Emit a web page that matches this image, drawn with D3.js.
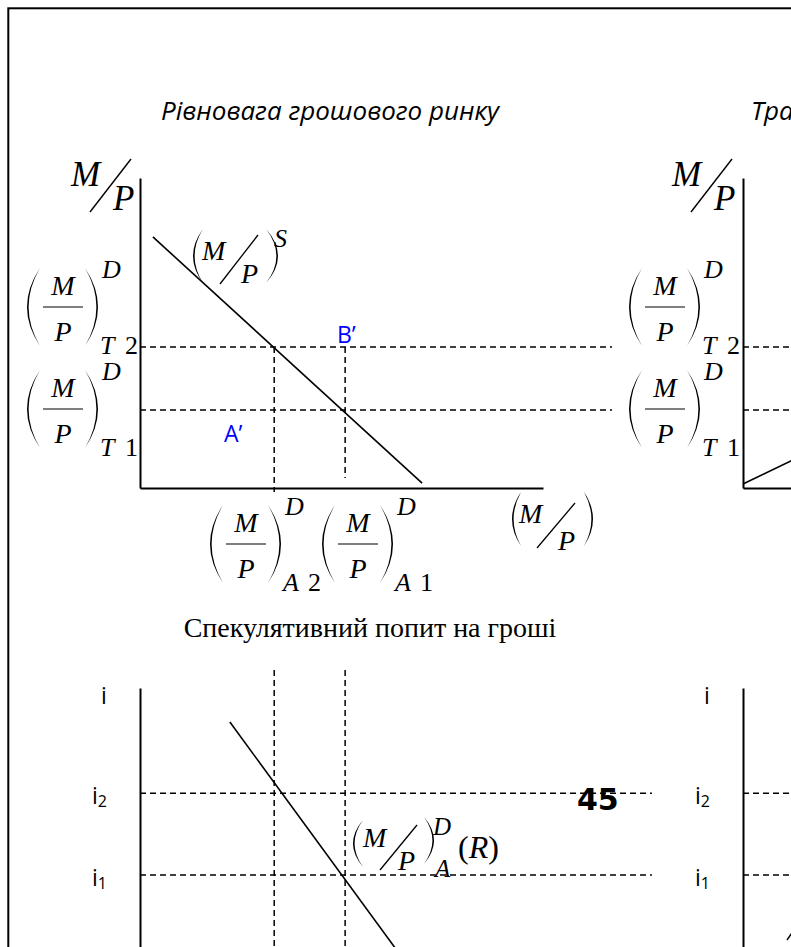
<!DOCTYPE html>
<html>
<head>
<meta charset="utf-8">
<script src="https://cdn.jsdelivr.net/npm/d3@7"></script>
<style>
html, body { margin: 0; padding: 0; background: #fff; overflow: hidden; }
svg { display: block; }
</style>
</head>
<body>
<svg id="chart" width="791" height="947"></svg>
<script>
// values are in % of axis length (0 = origin, 100 = end of axis)
var transLevels = [25.2, 45.5];            // (M/P)^D_T1, (M/P)^D_T2
var assetLevels = [50.9, 33.3];            // (M/P)^D_A1, (M/P)^D_A2
var moneySupply = [[3.2, 81.0], [70.0, 1.6]];
var transDemand = [[0, 1.3], [60, 38.9]];
var rateLevels = [40.1, 66.3];             // i1, i2
var specDemand = [[22.3, 89.1], [63.3, 16.7]];
var rateTicks = ["1", "2"];
var titles = ["Рівновага грошового ринку", "Трансакційний попит на гроші", "Спекулятивний попит на гроші"];

var SERIF = "'Liberation Serif', 'Times New Roman', serif";
var SANS = "'Open Sans', 'Noto Sans', sans-serif";

var svg = d3.select("#chart");

var x = d3.scaleLinear().domain([0, 100]).range([140, 543]);
var xR = d3.scaleLinear().domain([0, 100]).range([743, 1146]);
var yT = d3.scaleLinear().domain([0, 100]).range([488, 178]);
var yB = d3.scaleLinear().domain([0, 100]).range([1000, 688]);

// page frame
svg.append("rect")
    .attr("x", 8.3).attr("y", 8.3)
    .attr("width", 1000).attr("height", 1000)
    .attr("fill", "none").attr("stroke", "#000").attr("stroke-width", 2);

function txt(x0, y0, s, size, o) {
    o = o || {};
    return svg.append("text")
        .attr("x", x0).attr("y", y0)
        .attr("font-family", o.family || SERIF)
        .attr("font-style", o.style || "italic")
        .attr("font-weight", o.weight || "normal")
        .attr("font-size", size)
        .attr("text-anchor", o.anchor || "start")
        .attr("fill", o.fill || "#000")
        .text(s);
}
function seg(x1, y1, x2, y2, w) {
    svg.append("line")
        .attr("x1", x1).attr("y1", y1).attr("x2", x2).attr("y2", y2)
        .attr("stroke", "#000").attr("stroke-width", w || 1.2);
}
// big bracket: xo = outer bulge, xi = tips
function paren(xo, xi, y0, y1) {
    var ym = (y0 + y1) / 2, w = xo < xi ? 1.6 : -1.6;
    var p = d3.path();
    p.moveTo(xi, y0);
    p.quadraticCurveTo(2 * xo - xi, ym, xi, y1);
    p.quadraticCurveTo(2 * (xo + w) - xi, ym, xi, y0);
    p.closePath();
    svg.append("path").attr("d", p.toString()).attr("fill", "#000");
}

// ---- axes
function axes(g, sx, sy) {
    g.append("g").attr("transform", "translate(" + sx(0) + ",0)")
        .call(d3.axisLeft(sy).tickValues([]).tickSizeOuter(0));
}
var gTop = svg.append("g");
axes(gTop, x, yT);
axes(gTop, xR, yT);
gTop.append("g").attr("transform", "translate(0," + yT(0) + ")")
    .call(d3.axisBottom(x).tickValues([]).tickSizeOuter(0));
gTop.append("g").attr("transform", "translate(0," + yT(0) + ")")
    .call(d3.axisBottom(xR).tickValues([]).tickSizeOuter(0));
var gBot = svg.append("g");
axes(gBot, x, yB);
axes(gBot, xR, yB);
svg.selectAll(".domain").attr("stroke-width", 2);

// ---- dashed guides
var dashes = svg.append("g")
    .attr("stroke", "#000").attr("stroke-width", 1.5).attr("stroke-dasharray", "6,4");
var hSegs = [];
transLevels.forEach(function (v) {
    hSegs.push([x(0), xR(-32.5), yT(v)]);
    hSegs.push([xR(0), xR(100), yT(v)]);
});
rateLevels.forEach(function (v) {
    hSegs.push([x(0), xR(-22.6), yB(v)]);
    hSegs.push([xR(0), xR(100), yB(v)]);
});
dashes.selectAll(".h").data(hSegs).enter().append("line")
    .attr("x1", function (d) { return d[0]; }).attr("x2", function (d) { return d[1]; })
    .attr("y1", function (d) { return d[2]; }).attr("y2", function (d) { return d[2]; });
var vEnds = [3.2, -1.3];
dashes.selectAll(".v").data(assetLevels).enter().append("line")
    .attr("x1", function (d) { return x(d); }).attr("x2", function (d) { return x(d); })
    .attr("y1", yT(transLevels[1])).attr("y2", function (d, i) { return yT(vEnds[i]); });
dashes.selectAll(".vb").data(assetLevels).enter().append("line")
    .attr("x1", function (d) { return x(d); }).attr("x2", function (d) { return x(d); })
    .attr("y1", yB(105.8)).attr("y2", yB(0));

// ---- curves
var lineT = d3.line().x(function (d) { return x(d[0]); }).y(function (d) { return yT(d[1]); });
var lineTR = d3.line().x(function (d) { return xR(d[0]); }).y(function (d) { return yT(d[1]); });
var lineB = d3.line().x(function (d) { return x(d[0]); }).y(function (d) { return yB(d[1]); });
svg.append("path").attr("d", lineT(moneySupply)).attr("fill", "none").attr("stroke", "#000").attr("stroke-width", 1.6);
svg.append("path").attr("d", lineTR(transDemand)).attr("fill", "none").attr("stroke", "#000").attr("stroke-width", 1.6);
svg.append("path").attr("d", lineB(specDemand)).attr("fill", "none").attr("stroke", "#000").attr("stroke-width", 1.6);
svg.append("line").attr("x1", 787).attr("y1", 940).attr("x2", 800).attr("y2", 921)
    .attr("stroke", "#000").attr("stroke-width", 1.4);

// ---- titles
txt(330, 120, titles[0], 26, { family: SANS, anchor: "middle" });
txt(751, 120, titles[1], 26, { family: SANS });
txt(370, 637, titles[2], 28, { style: "normal", anchor: "middle" });

// ---- (M/P) fraction labels
function fracLabel(cx, by, subL, subN) {
    paren(cx - 36, cx - 23, by - 39, by + 39);
    paren(cx + 35, cx + 22, by - 39, by + 39);
    seg(cx - 20, by, cx + 20, by, 1.2);
    txt(cx, by - 12, "M", 28, { anchor: "middle" });
    txt(cx, by + 34, "P", 28, { anchor: "middle" });
    txt(cx + 39, by - 29, "D", 26);
    txt(cx + 37, by + 47, subL, 26);
    txt(cx + 62, by + 47, subN, 26, { style: "normal" });
}
fracLabel(63, 307, "T", "2");
fracLabel(63, 409, "T", "1");
fracLabel(246, 544, "A", "2");
fracLabel(358, 544, "A", "1");
fracLabel(665, 307, "T", "2");
fracLabel(665, 409, "T", "1");

// axis title M/P (skewed)
[0, 601].forEach(function (dx) {
    txt(71 + dx, 186, "M", 35);
    seg(90 + dx, 212, 131 + dx, 159, 1.4);
    txt(113 + dx, 210, "P", 35);
});

// (M/P)^S
paren(193, 203, 229, 283);
txt(202, 260, "M", 28);
seg(220, 284, 258, 235, 1.3);
txt(241, 283, "P", 28);
paren(278, 266, 229, 283);
txt(274, 247, "S", 26);

// x axis title (M/P)
paren(512, 521, 492, 546);
txt(519, 523, "M", 28);
seg(537, 548, 575, 503, 1.3);
txt(558, 550, "P", 28);
paren(593, 584, 492, 546);

// (M/P)^D_A(R)
paren(353, 363, 820, 867);
txt(363, 847, "M", 28);
seg(380, 870, 417, 825, 1.3);
txt(398, 870, "P", 28);
paren(434, 424, 817, 864);
txt(433, 835, "D", 25);
txt(435, 877, "A", 25);
var rt = txt(458, 858, "", 32, { style: "normal" });
rt.append("tspan").text("(");
rt.append("tspan").attr("font-style", "italic").text("R");
rt.append("tspan").text(")");

// points
txt(337, 343, "B’", 23, { family: SANS, style: "normal", fill: "#0000ff" });
txt(224, 442, "A’", 23, { family: SANS, style: "normal", fill: "#0000ff" });

// interest rate labels
[0, 603].forEach(function (dx) {
    txt(101 + dx, 704, "i", 23, { family: SANS, style: "normal" });
    rateLevels.forEach(function (v, k) {
        var t = txt(92 + dx, yB(v) + 11, "i", 23, { family: SANS, style: "normal" });
        t.append("tspan").attr("font-size", 16).attr("dy", 3).text(rateTicks[k]);
    });
});

// page number
txt(577, 810, "45", 30, { family: "'DejaVu Sans', sans-serif", style: "normal", weight: "bold" });
</script>
</body>
</html>
